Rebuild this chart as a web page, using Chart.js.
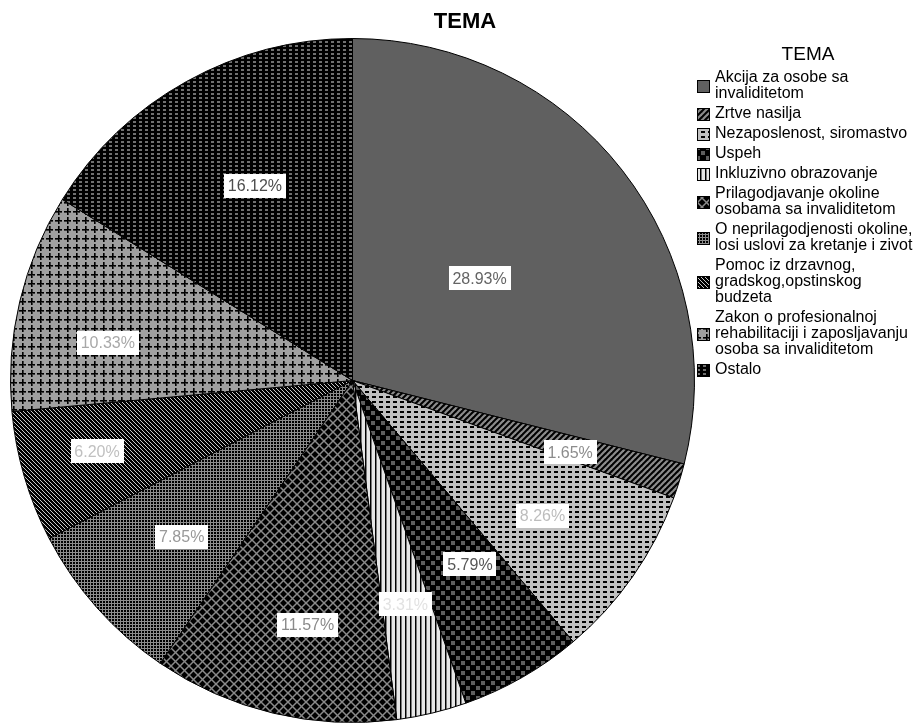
<!DOCTYPE html>
<html>
<head>
<meta charset="utf-8">
<title>TEMA</title>
<script src="https://cdn.jsdelivr.net/npm/chart.js@4.4.1/dist/chart.umd.min.js"></script>
<style>
  html, body { margin: 0; padding: 0; background: #fff; }
  canvas { display: block; }
</style>
</head>
<body>
<canvas id="temaChart" width="919" height="723"></canvas>
<script>
// Teme (redovi legende) i njihovi udeli u procentima
const categories = [
    ['Akcija za osobe sa', 'invaliditetom'],
    ['Zrtve nasilja'],
    ['Nezaposlenost, siromastvo'],
    ['Uspeh'],
    ['Inkluzivno obrazovanje'],
    ['Prilagodjavanje okoline', 'osobama sa invaliditetom'],
    ['O neprilagodjenosti okoline,', 'losi uslovi za kretanje i zivot'],
    ['Pomoc iz drzavnog,', 'gradskog,opstinskog', 'budzeta'],
    ['Zakon o profesionalnoj', 'rehabilitaciji i zaposljavanju', 'osoba sa invaliditetom'],
    ['Ostalo']
];
const shares = [28.93, 1.65, 8.26, 5.79, 3.31, 11.57, 7.85, 6.20, 10.33, 16.12];
const shareLabels = shares.map(v => v.toFixed(2) + '%');
const chartTitle = 'TEMA';

// Boje teksta na etiketama i njihov polozaj (udeo poluprecnika, pomeraj ugla u stepenima)
const labelColors = ['#646464', '#8c8c8c', '#bdbdbd', '#555555', '#e2e2e2', '#8a8a8a', '#999999', '#c0c0c0', '#a8a8a8', '#4d4d4d'];
const labelRadius = [0.477, 0.67, 0.682, 0.638, 0.672, 0.727, 0.677, 0.775, 0.724, 0.637];
const labelShift = [-0.9, 1.1, 0.5, -2.8, 0.1, -3, -0.8, 0.9, -4.6, 2.4];

const FONT = '"Liberation Sans", Arial, sans-serif';
const canvas = document.getElementById('temaChart');
const mainCtx = canvas.getContext('2d');

// Sare (pattern) za isecke
function tile(w, h, paint) {
    const c = document.createElement('canvas');
    c.width = w;
    c.height = h;
    const g = c.getContext('2d');
    paint(g, w, h);
    return mainCtx.createPattern(c, 'repeat');
}

function diag(g, s, dir, color, lw) {
    g.strokeStyle = color;
    g.lineWidth = lw;
    for (let k = -1; k <= 1; k++) {
        g.beginPath();
        if (dir > 0) {
            g.moveTo(k * s - 1, s + 1);
            g.lineTo(k * s + s + 1, -1);
        } else {
            g.moveTo(k * s - 1, -1);
            g.lineTo(k * s + s + 1, s + 1);
        }
        g.stroke();
    }
}

const fills = [
    '#606060',
    tile(6, 6, (g, w, h) => {
        g.fillStyle = '#000'; g.fillRect(0, 0, w, h);
        diag(g, 6, 1, '#8c8c8c', 2.2);
    }),
    tile(7, 5, (g, w, h) => {
        g.fillStyle = '#c0c0c0'; g.fillRect(0, 0, w, h);
        g.fillStyle = '#000'; g.fillRect(1, 1, 4, 2);
    }),
    tile(10, 10, (g, w, h) => {
        g.fillStyle = '#000'; g.fillRect(0, 0, w, h);
        g.fillStyle = '#5e5e5e';
        g.fillRect(1, 1, 4, 4);
        g.fillRect(6, 6, 4, 4);
    }),
    tile(5, 5, (g, w, h) => {
        g.fillStyle = '#e6e6e6'; g.fillRect(0, 0, w, h);
        g.fillStyle = '#000'; g.fillRect(0, 0, 1, h);
        g.fillStyle = '#777'; g.fillRect(1, 0, 1, h);
    }),
    tile(9, 9, (g, w, h) => {
        g.fillStyle = '#000'; g.fillRect(0, 0, w, h);
        diag(g, 9, 1, '#8a8a8a', 1.5);
        diag(g, 9, -1, '#8a8a8a', 1.5);
    }),
    tile(3, 3, (g, w, h) => {
        g.fillStyle = '#8c8c8c'; g.fillRect(0, 0, w, h);
        g.fillStyle = '#000'; g.fillRect(1, 1, 2, 2);
    }),
    tile(4, 4, (g, w, h) => {
        g.fillStyle = '#000'; g.fillRect(0, 0, w, h);
        diag(g, 4, -1, '#c8c8c8', 1);
    }),
    tile(9, 9, (g, w, h) => {
        g.fillStyle = '#a0a0a0'; g.fillRect(0, 0, w, h);
        g.fillStyle = '#3c3c3c';
        g.fillRect(5, 1, 1, 7);
        g.fillRect(1, 5, 7, 1);
        g.fillStyle = '#000';
        g.fillRect(4, 1, 1, 7);
        g.fillRect(1, 4, 7, 1);
    }),
    tile(6, 4, (g, w, h) => {
        g.fillStyle = '#000'; g.fillRect(0, 0, w, h);
        g.fillStyle = '#707070'; g.fillRect(1, 1, 3, 2);
    })
];

// Procenti u belim kucicama unutar isecaka
const sliceLabels = {
    id: 'sliceLabels',
    afterDatasetsDraw(chart) {
        const ctx = chart.ctx;
        const arcs = chart.getDatasetMeta(0).data;
        ctx.save();
        ctx.font = '16px ' + FONT;
        ctx.textAlign = 'center';
        ctx.textBaseline = 'middle';
        arcs.forEach((arc, i) => {
            const p = arc.getProps(['x', 'y', 'startAngle', 'endAngle', 'outerRadius'], true);
            const a = (p.startAngle + p.endAngle) / 2 + labelShift[i] * Math.PI / 180;
            const r = p.outerRadius * labelRadius[i];
            const x = p.x + Math.cos(a) * r;
            const y = p.y + Math.sin(a) * r;
            const text = shareLabels[i];
            const w = Math.round(ctx.measureText(text).width + 8);
            const h = 24;
            ctx.fillStyle = '#fff';
            ctx.fillRect(Math.round(x - w / 2), Math.round(y - h / 2), w, h);
            ctx.fillStyle = labelColors[i];
            ctx.fillText(text, x, y + 1);
        });
        ctx.restore();
    }
};

// Naslov i legenda sa desne strane
const titleAndLegend = {
    id: 'titleAndLegend',
    afterDraw(chart) {
        const ctx = chart.ctx;
        ctx.save();
        ctx.fillStyle = '#000';
        ctx.textAlign = 'center';
        ctx.textBaseline = 'middle';
        ctx.font = 'bold 22px ' + FONT;
        ctx.fillText(chartTitle, 465, 22);
        ctx.font = '19px ' + FONT;
        ctx.fillText(chartTitle, 808, 55);

        ctx.textAlign = 'left';
        ctx.font = '16px ' + FONT;
        const lineH = 16;
        const gap = 20;
        let y = 78;
        categories.forEach((lines, i) => {
            const first = y;
            lines.forEach((line, j) => {
                ctx.fillStyle = '#000';
                ctx.fillText(line, 715, y);
                if (j < lines.length - 1) y += lineH;
            });
            const mid = (first + y) / 2;
            ctx.fillStyle = fills[i];
            ctx.fillRect(697, Math.round(mid - 6), 13, 13);
            ctx.strokeStyle = '#000';
            ctx.lineWidth = 1;
            ctx.strokeRect(697.5, Math.round(mid - 6) + 0.5, 12, 12);
            y += gap;
        });
        ctx.restore();
    }
};

new Chart(canvas, {
    type: 'pie',
    data: {
        labels: categories.map(l => l.join(' ')),
        datasets: [{
            data: shares,
            backgroundColor: fills,
            borderColor: '#000',
            borderWidth: 1
        }]
    },
    options: {
        responsive: false,
        animation: false,
        events: [],
        layout: {
            padding: { top: 38, left: 8, right: 222, bottom: -4 }
        },
        plugins: {
            legend: { display: false },
            title: { display: false },
            tooltip: { enabled: false }
        }
    },
    plugins: [sliceLabels, titleAndLegend]
});
</script>
</body>
</html>
